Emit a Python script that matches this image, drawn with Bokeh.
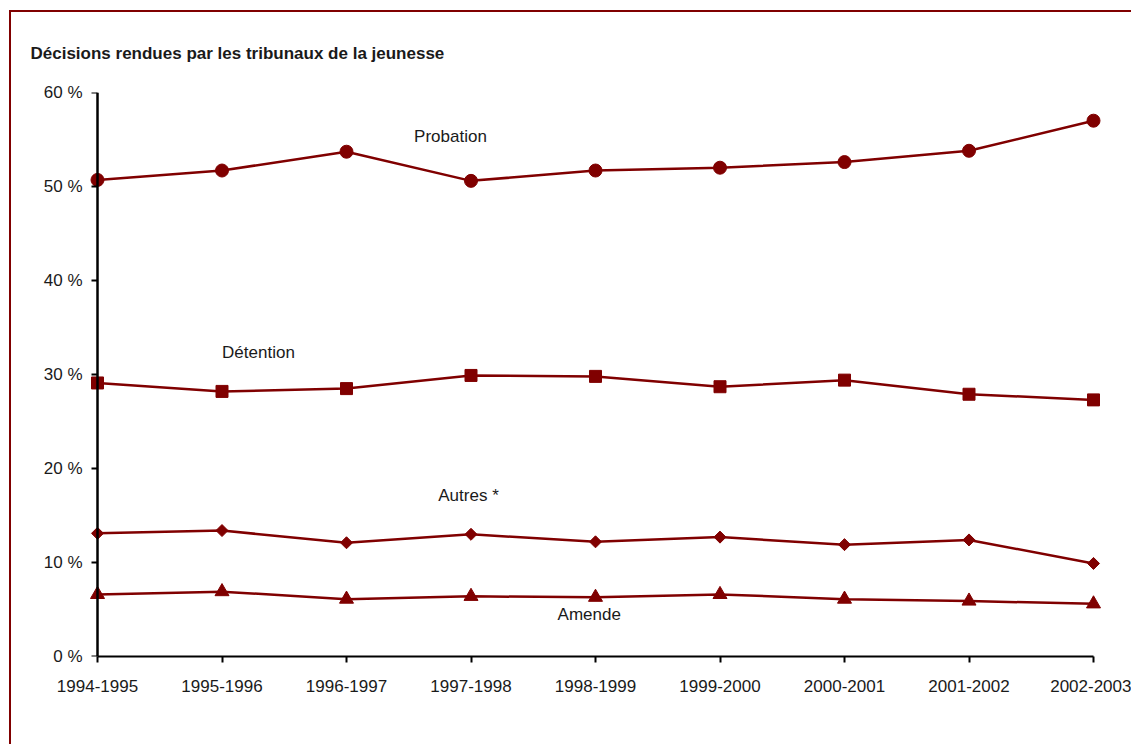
import math
from bokeh.plotting import figure
from bokeh.models import FixedTicker, Range1d, Title, LinearAxis
from bokeh.core.properties import value
from bokeh.embed import file_html
from bokeh.resources import INLINE

categories = ["1994-1995", "1995-1996", "1996-1997", "1997-1998", "1998-1999",
              "1999-2000", "2000-2001", "2001-2002", "2002-2003"]
probation = [50.7, 51.7, 53.7, 50.6, 51.7, 52.0, 52.6, 53.8, 57.0]
detention = [29.1, 28.2, 28.5, 29.9, 29.8, 28.7, 29.4, 27.9, 27.3]
autres = [13.1, 13.4, 12.1, 13.0, 12.2, 12.7, 11.9, 12.4, 9.9]
amende = [6.6, 6.9, 6.1, 6.4, 6.3, 6.6, 6.1, 5.9, 5.6]

label_texts = ["Probation", "Détention", "Autres *", "Amende"]
label_x = [2.835, 1.293, 2.98, 3.95]
label_y = [55.3, 32.3, 17.1, 4.47]

y_ticks = [0, 10, 20, 30, 40, 50, 60]

FONT = "'Liberation Sans Narrow', 'Arial Narrow', 'Liberation Sans', sans-serif"
RED = "#800000"
xs = list(range(len(categories)))
pad = 12 / 124.5

p = figure(width=1122, height=734, output_backend="svg", toolbar_location=None,
           x_range=Range1d(-pad, len(categories) - 1 + pad), y_range=Range1d(0, 60),
           min_border_left=74, min_border_right=28, min_border_top=80, min_border_bottom=90)
p.styles = {"border-left": f"2px solid {RED}", "border-top": f"2px solid {RED}",
            "margin-left": "9px", "margin-top": "10px"}
p.outline_line_color = None
p.grid.grid_line_color = None
p.background_fill_color = "white"
p.border_fill_color = "white"

t = Title(text="Décisions rendues par les tribunaux de la jeunesse", align="left",
          offset=-55, text_font=FONT, text_font_size="17px", text_font_style="bold",
          text_color="#1a1a1a", standoff=59)
p.add_layout(t, "above")

# bottom x axis
xa = p.below[0]
xa.ticker = FixedTicker(ticks=xs)
xa.bounds = (0, len(categories) - 1)
xa.major_label_overrides = {i: c for i, c in enumerate(categories)}
xa.major_label_standoff = 17
xa.axis_line_color = "black"
xa.axis_line_width = 2
xa.major_tick_line_color = "black"
xa.major_tick_line_width = 2
xa.major_tick_in = 0
xa.major_tick_out = 6
xa.minor_tick_line_color = None
xa.major_label_text_font = FONT
xa.major_label_text_font_size = "17px"
xa.major_label_text_color = "#1a1a1a"

# y axis labels (standard left axis, labels only)
ya = p.left[0]
ya.ticker = FixedTicker(ticks=y_ticks)
ya.major_label_overrides = {v: f"{v} %" for v in y_ticks}
ya.major_label_standoff = 3
ya.axis_line_color = None
ya.major_tick_line_color = None
ya.minor_tick_line_color = None
ya.major_tick_in = 0
ya.major_tick_out = 0
ya.major_label_text_font = FONT
ya.major_label_text_font_size = "17px"
ya.major_label_text_color = "#1a1a1a"

# y axis line and ticks at x = first category
yl = LinearAxis(ticker=FixedTicker(ticks=y_ticks), fixed_location=0,
                axis_line_color="black", axis_line_width=2.5,
                major_tick_line_color="black", major_tick_line_width=2,
                major_tick_in=0, major_tick_out=6, minor_tick_line_color=None,
                major_label_text_color=None, major_label_text_font_size="0px")
p.add_layout(yl, "left")

for ys, marker, size, ang in [(probation, "circle", 13, 0), (detention, "square", 12, 0),
                              (autres, "square", 8.5, math.pi / 4), (amende, "triangle", 14, 0)]:
    p.line(xs, ys, line_color=RED, line_width=2.5)
    p.scatter(xs, ys, marker=marker, size=size, angle=ang, fill_color=RED, line_color=RED)

p.text(x=label_x, y=label_y, text=label_texts, text_font=value(FONT),
       text_font_size="17px", text_color="#1a1a1a", text_align="center",
       text_baseline="middle")

open("out.html", "w").write(file_html(p, INLINE))
